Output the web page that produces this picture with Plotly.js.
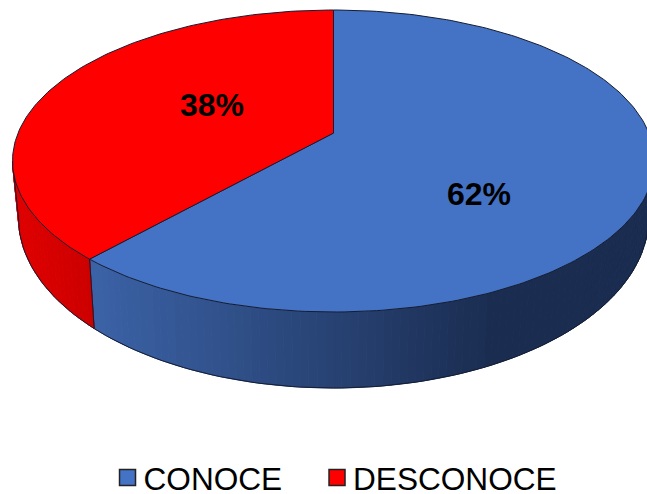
<!DOCTYPE html>
<html>
<head>
<meta charset="utf-8">
<script src="https://cdn.plot.ly/plotly-3.0.1.min.js"></script>
<style>html,body{margin:0;padding:0;background:#fff;overflow:hidden}</style>
</head>
<body>
<div id="chart" style="width:647px;height:494px"></div>
<script>
const categories = ["CONOCE", "DESCONOCE"];
const percentages = [62, 38];
const faceColors = ["#4472C4", "#FF0000"];

// Tilted-disc geometry in pixel units
const W = 647, H = 494;
const topFace = {cx: 333.5, cy: 161, rx: 321, ry: 151};
const lowFace = {cx: 333.5, cy: 218, rx: 315, ry: 170};
const tilt = 0.15;
const apexLift = 0.185;
const edge = "#141d33";
const labelSpots = [[479, 197], [212, 108]];

const rad = d => d * Math.PI / 180;

// Turn angle (clockwise from 12 o'clock) -> position on the unit ellipse
function perspective(deg) {
  const s = Math.sin(rad(deg)), c = Math.cos(rad(deg));
  const d = 1 + tilt * c;
  return [s * Math.sqrt(1 - tilt * tilt) / d, (c + tilt) / d];
}
const onFace = (f, p) => [f.cx + f.rx * p[0], f.cy - f.ry * p[1]];
function param(deg) {
  const p = perspective(deg);
  const u = Math.atan2(p[0], p[1]) * 180 / Math.PI;
  return u < 0 ? u + 360 : u;
}
const rimPoint = (f, u) => [f.cx + f.rx * Math.sin(rad(u)), f.cy - f.ry * Math.cos(rad(u))];

function lerpColor(a, b, t) {
  t = Math.max(0, Math.min(1, t));
  return "rgb(" + a.map((v, i) => Math.round(v + (b[i] - v) * t)).join(",") + ")";
}

const polygon = (pts, color, lineColor, width) => ({
  x: pts.map(p => p[0]), y: pts.map(p => p[1]),
  type: "scatter", mode: "lines", fill: "toself", fillcolor: color,
  line: {color: lineColor, width: width}, hoverinfo: "skip", showlegend: false
});

const seamDeg = percentages[0] / 100 * 360;
const seamU = param(seamDeg);
const traces = [];

// Side wall: narrow strips shaded by horizontal position, then a dark outline
function wall(u0, u1, shade) {
  const n = Math.ceil(Math.abs(u1 - u0) / 1.5);
  const outline = [rimPoint(topFace, u0)];
  for (let i = 0; i < n; i++) {
    const a = u0 + (u1 - u0) * i / n, b = u0 + (u1 - u0) * (i + 1) / n;
    const p = [rimPoint(topFace, a), rimPoint(topFace, b), rimPoint(lowFace, b), rimPoint(lowFace, a), rimPoint(topFace, a)];
    const col = shade((p[0][0] + p[1][0]) / 2);
    traces.push(polygon(p, col, col, 1));
    outline.push(rimPoint(lowFace, a));
  }
  outline.push(rimPoint(lowFace, u1), rimPoint(topFace, u1));
  traces.push({
    x: outline.map(p => p[0]), y: outline.map(p => p[1]),
    type: "scatter", mode: "lines", line: {color: edge, width: 1},
    hoverinfo: "skip", showlegend: false
  });
}
wall(90, seamU, x => lerpColor([59, 98, 166], [26, 44, 80], (x - 95) / 400));
wall(seamU, 270, x => lerpColor([222, 0, 0], [204, 0, 0], (x - 20) / 70));

// Top face: one sector per category, starting at 12 o'clock
function sector(d0, d1) {
  const apex = onFace(topFace, [0, apexLift]);
  const pts = [apex];
  const n = Math.ceil(d1 - d0);
  for (let i = 0; i <= n; i++) pts.push(onFace(topFace, perspective(d0 + (d1 - d0) * i / n)));
  pts.push(apex);
  return pts;
}
let start = 0;
percentages.forEach((v, i) => {
  const end = start + v / 100 * 360;
  traces.push(polygon(sector(start, end), faceColors[i], edge, 1));
  start = end;
});

// Percentage labels
traces.push({
  x: labelSpots.map(p => p[0]), y: labelSpots.map(p => p[1]),
  text: percentages.map(v => v + "%"),
  type: "scatter", mode: "text", textposition: "middle center",
  textfont: {family: "Liberation Sans", size: 32, color: "#000", weight: 700},
  hoverinfo: "skip", showlegend: false
});

// Legend entries, one legend box per category so each can be placed freely
categories.forEach((name, i) => traces.push({
  x: [null], y: [null], name: name, legend: i ? "legend2" : "legend",
  type: "scatter", mode: "markers",
  marker: {symbol: "square", size: 16, color: faceColors[i], line: {color: "#222", width: 1.5}},
  hoverinfo: "skip"
}));

const legendBox = x => ({
  orientation: "h", x: x, y: -0.023, xanchor: "left", yanchor: "bottom",
  font: {family: "Liberation Sans", size: 31.6, color: "#000"},
  itemwidth: 30, itemclick: false, itemdoubleclick: false,
  bgcolor: "rgba(0,0,0,0)"
});

const layout = {
  width: W, height: H,
  margin: {l: 0, r: 0, t: 0, b: 0, autoexpand: false},
  paper_bgcolor: "#fff", plot_bgcolor: "#fff",
  xaxis: {range: [0, W], visible: false, fixedrange: true},
  yaxis: {range: [H, 0], visible: false, fixedrange: true},
  showlegend: true,
  legend: legendBox(0.16),
  legend2: legendBox(0.4838)
};

Plotly.newPlot("chart", traces, layout, {displayModeBar: false, staticPlot: true}).then(() => {
  // Tighten the gap between each legend swatch and its label
  document.querySelectorAll("#chart .legendsymbols").forEach(g => g.setAttribute("transform", "translate(4,0)"));
});
</script>
</body>
</html>
